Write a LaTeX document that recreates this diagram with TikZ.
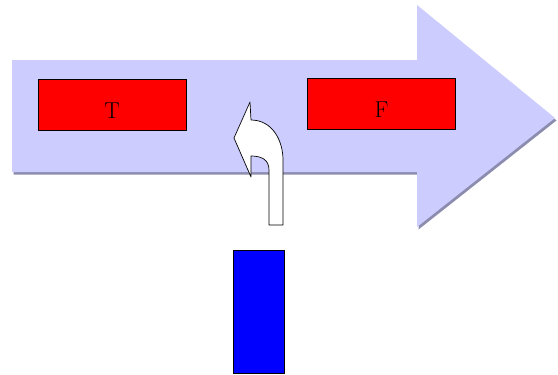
\documentclass[tikz,border=0pt]{standalone}
\begin{document}
\begin{tikzpicture}[x=1pt,y=-1pt,
  bigarrow/.style={fill={rgb,255:red,204;green,204;blue,255}},
  arrowshadow/.style={fill={rgb,255:red,140;green,140;blue,175}},
  redbox/.style={draw=black,line width=0.8pt,fill=red,minimum width=148pt,minimum height=51pt,inner sep=0pt,
    text height=27pt,text depth=0pt,font=\fontsize{23}{27}\selectfont},
  bluebox/.style={draw=black,line width=0.8pt,fill=blue,minimum width=51pt,minimum height=123pt,inner sep=0pt},
  uturn/.style={draw=black,line width=0.7pt,fill=white,line join=round}]
\useasboundingbox (0,0) rectangle (558,375);
% shadow and big arrow
\fill[arrowshadow] (13.5,62.5) -- (418.5,62.5) -- (418.5,7.5) -- (556.5,120.5) -- (418.5,229.5) -- (418.5,174.5) -- (13.5,174.5) -- cycle;
\fill[bigarrow] (12,60) -- (417,60) -- (417,5) -- (555,118) -- (417,227) -- (417,172) -- (12,172) -- cycle;
% boxes
\node[redbox] (T) at (112,104.5) {T};
\node[redbox] (F) at (381.5,104) {F};
\node[bluebox] (B) at (258.5,311.5) {};
% U-turn arrow
\draw[uturn] (269,225) -- (269,170) .. controls (269,160) and (262,156) .. (251,156)
  -- (251,177) -- (234,138) -- (250,102) -- (251,120)
  .. controls (272,120) and (283,140) .. (283,160) -- (283,225) -- cycle;
\end{tikzpicture}
\end{document}
